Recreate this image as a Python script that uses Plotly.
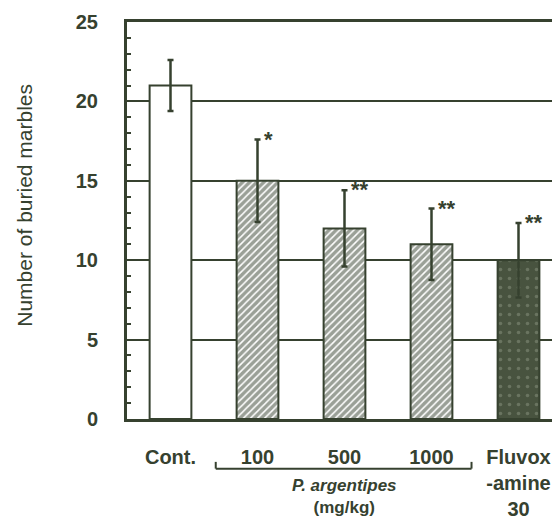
import plotly.graph_objects as go

categories = ["Cont.", "100", "500", "1000", "Fluvox<br>-amine<br>30"]
means = [21.0, 15.0, 12.0, 11.0, 10.0]
errors = [1.6, 2.6, 2.4, 2.25, 2.35]
signif = ["", "*", "**", "**", "**"]
y_ticks = [0, 5, 10, 15, 20, 25]
group_label = "<i>P. argentipes</i><br>(mg/kg)"
y_title = "Number of buried marbles"

INK = "#36412f"
FONT = "Liberation Sans, Arial, sans-serif"

positions = list(range(len(categories)))

fig = go.Figure()

hatch = dict(shape="/", fgcolor=INK, bgcolor="white", size=5, solidity=0.7)
styles = [
    dict(color="white", pattern=dict(shape="")),
    dict(color="white", pattern=hatch),
    dict(color="white", pattern=hatch),
    dict(color="white", pattern=hatch),
    dict(color="#48533f", pattern=dict(shape=".", fgcolor="#8c9682", bgcolor="#48533f", size=9, solidity=0.12)),
]

for i, (p, m, e) in enumerate(zip(positions, means, errors)):
    fig.add_trace(go.Bar(
        x=[p], y=[m],
        width=0.48,
        marker=dict(color=styles[i]["color"], pattern=styles[i]["pattern"],
                    line=dict(color=INK, width=2)),
        error_y=dict(type="data", array=[e], visible=True, color=INK,
                     thickness=2.5, width=3),
        showlegend=False,
    ))

for p, m, e, s in zip(positions, means, errors, signif):
    if s:
        fig.add_annotation(x=p, y=m + e, xref="x", yref="y", text=s, showarrow=False,
                           xanchor="left", yanchor="bottom", xshift=4, yshift=-14,
                           font=dict(family=FONT, size=22, color=INK, weight="bold"))

# bracket under the P. argentipes doses
x0 = 1 - 0.48
x1 = 3 + 0.46
fig.add_shape(type="line", xref="x", yref="paper", x0=x0, x1=x1, y0=-0.125, y1=-0.125,
              line=dict(color=INK, width=2))
fig.add_shape(type="line", xref="x", yref="paper", x0=x0, x1=x0, y0=-0.125, y1=-0.108,
              line=dict(color=INK, width=2))
fig.add_shape(type="line", xref="x", yref="paper", x0=x1, x1=x1, y0=-0.125, y1=-0.108,
              line=dict(color=INK, width=2))
fig.add_annotation(x=2, xref="x", y=-0.196, yref="paper", yanchor="middle", text=group_label,
                   showarrow=False, align="center",
                   font=dict(family=FONT, size=17, color=INK, weight="bold"))

# y-axis title
fig.add_annotation(text=y_title, xref="paper", yref="paper", x=-0.243, y=0.539,
                   xanchor="center", yanchor="middle", textangle=-90, showarrow=False,
                   font=dict(family=FONT, size=21, color=INK))

fig.update_layout(
    width=552, height=520,
    margin=dict(l=127, r=0, t=22, b=99),
    plot_bgcolor="white", paper_bgcolor="white",
    font=dict(family=FONT, color=INK),
)
fig.update_xaxes(
    range=[-0.5, 4.385],
    tickvals=positions, ticktext=categories,
    showline=True, linecolor=INK, linewidth=3, mirror=True,
    ticks="", showgrid=False, zeroline=False,
    tickfont=dict(family=FONT, size=20, color=INK, weight="bold"),
    ticklabelstandoff=18,
)
fig.update_yaxes(
    range=[0, 25], tickvals=y_ticks,
    showline=True, linecolor=INK, linewidth=3, mirror=False,
    showgrid=True, gridcolor=INK, gridwidth=2,
    zeroline=False,
    ticks="inside", ticklen=4, tickcolor=INK, tickwidth=1.5,
    minor=dict(dtick=1, ticks="inside", ticklen=4, tickcolor=INK, tickwidth=1.5, showgrid=False),
    tickfont=dict(family=FONT, size=20, color=INK, weight="bold"),
    ticklabelstandoff=22,
)

fig.write_html("out.html")
